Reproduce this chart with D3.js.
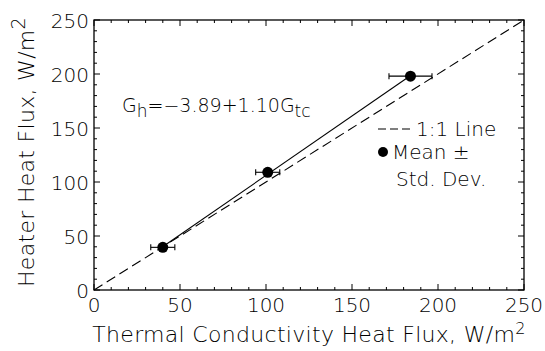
<!DOCTYPE html>
<html>
<head>
<meta charset="utf-8">
<script src="https://cdn.jsdelivr.net/npm/d3@7"></script>
<style>
  body { margin: 0; background: #fff; }
  text { font-family: "DejaVu Sans", sans-serif; font-weight: 200; fill: #000; }
</style>
</head>
<body>
<div id="chart"></div>
<script>
// Mean values
const conductivityFlux = [40, 101, 184];
const heaterFlux = [39.5, 109, 198];
const conductivitySD = [7, 7, 12.5];

const tickValues = [0, 50, 100, 150, 200, 250];
const minorTicks = d3.range(0, 251, 10);

// regression Gh = -3.89 + 1.10 Gtc
const fitIntercept = -3.89;
const fitSlope = 1.10;
const fitRange = [37, 186];

const margin = { top: 20, right: 21, bottom: 61, left: 94 },
  width = 545 - margin.left - margin.right,
  height = 351 - margin.top - margin.bottom;

const svg = d3
  .select("#chart")
  .append("svg")
  .attr("width", 545)
  .attr("height", 351);

const g = svg
  .append("g")
  .attr("transform", "translate(" + margin.left + "," + margin.top + ")");

const x = d3.scaleLinear().domain([0, 250]).range([0, width]);
const y = d3.scaleLinear().domain([0, 250]).range([height, 0]);

// frame
g.append("rect")
  .attr("width", width)
  .attr("height", height)
  .attr("fill", "none")
  .attr("stroke", "#000")
  .attr("stroke-width", 1.3);

// inward ticks on all four sides
function tickLen(v) {
  return v % 50 === 0 ? 6 : 3;
}
const tickG = g.append("g").attr("stroke", "#000").attr("stroke-width", 1);
minorTicks.forEach((v) => {
  tickG.append("line") // bottom
    .attr("x1", x(v)).attr("x2", x(v))
    .attr("y1", height).attr("y2", height - tickLen(v));
  tickG.append("line") // top
    .attr("x1", x(v)).attr("x2", x(v))
    .attr("y1", 0).attr("y2", tickLen(v));
  tickG.append("line") // left
    .attr("x1", 0).attr("x2", tickLen(v))
    .attr("y1", y(v)).attr("y2", y(v));
  tickG.append("line") // right
    .attr("x1", width).attr("x2", width - tickLen(v))
    .attr("y1", y(v)).attr("y2", y(v));
});

// tick labels
g.selectAll(".xlab")
  .data(tickValues)
  .enter()
  .append("text")
  .attr("x", (d) => x(d))
  .attr("y", height + 22)
  .attr("text-anchor", "middle")
  .style("font-size", "20px")
  .text((d) => d);

g.selectAll(".ylab")
  .data(tickValues)
  .enter()
  .append("text")
  .attr("x", -5)
  .attr("y", (d) => y(d) + 8)
  .attr("text-anchor", "end")
  .style("font-size", "20px")
  .text((d) => d);

// axis titles
const xTitle = g
  .append("text")
  .attr("x", width / 2)
  .attr("y", height + 52)
  .attr("text-anchor", "middle")
  .style("font-size", "22px")
  .style("letter-spacing", "0.3px");
xTitle.append("tspan").text("Thermal Conductivity Heat Flux, W/m");
xTitle.append("tspan").attr("dy", -8).style("font-size", "16px").text("2");

const yTitle = g
  .append("text")
  .attr("transform", "translate(" + (-60) + "," + (height / 2 - 3) + ") rotate(-90)")
  .attr("text-anchor", "middle")
  .style("font-size", "22px")
  .style("letter-spacing", "0.3px");
yTitle.append("tspan").text("Heater Heat Flux, W/m");
yTitle.append("tspan").attr("dy", -9).style("font-size", "19px").text("2");

// 1:1 line
g.append("line")
  .attr("x1", x(0)).attr("y1", y(0))
  .attr("x2", x(250)).attr("y2", y(250))
  .attr("stroke", "#000")
  .attr("stroke-width", 1.1)
  .attr("stroke-dasharray", "10,5");

// regression line
g.append("line")
  .attr("x1", x(fitRange[0])).attr("y1", y(fitIntercept + fitSlope * fitRange[0]))
  .attr("x2", x(fitRange[1])).attr("y2", y(fitIntercept + fitSlope * fitRange[1]))
  .attr("stroke", "#000")
  .attr("stroke-width", 1.1);

// error bars
const points = conductivityFlux.map((v, i) => ({ x: v, y: heaterFlux[i], sd: conductivitySD[i] }));
const eb = g.append("g").attr("stroke", "#000").attr("stroke-width", 1.1);
points.forEach((p) => {
  eb.append("line")
    .attr("x1", x(p.x - p.sd)).attr("x2", x(p.x + p.sd))
    .attr("y1", y(p.y)).attr("y2", y(p.y));
  [p.x - p.sd, p.x + p.sd].forEach((e) => {
    eb.append("line")
      .attr("x1", x(e)).attr("x2", x(e))
      .attr("y1", y(p.y) - 3).attr("y2", y(p.y) + 3);
  });
});

// means
g.selectAll("circle.mean")
  .data(points)
  .enter()
  .append("circle")
  .attr("class", "mean")
  .attr("cx", (d) => x(d.x))
  .attr("cy", (d) => y(d.y))
  .attr("r", 5.5)
  .attr("fill", "#000");

// fit equation
const eq = g
  .append("text")
  .attr("x", 28)
  .attr("y", 92)
  .style("font-size", "19px");
eq.append("tspan").text("G");
eq.append("tspan").attr("dy", 5).style("font-size", "17px").text("h");
eq.append("tspan").attr("dy", -5).text("=\u22123.89+1.10G");
eq.append("tspan").attr("dy", 5).style("font-size", "17px").text("tc");

// legend
const lg = g.append("g").attr("transform", "translate(284,0)");
lg.append("line")
  .attr("x1", 0).attr("x2", 34)
  .attr("y1", 109).attr("y2", 109)
  .attr("stroke", "#000")
  .attr("stroke-width", 1.1)
  .attr("stroke-dasharray", "8,4");
lg.append("text").attr("x", 38).attr("y", 116).style("font-size", "20px").text("1:1 Line");
lg.append("circle").attr("cx", 5).attr("cy", 132).attr("r", 5).attr("fill", "#000");
lg.append("text").attr("x", 14).attr("y", 139).style("font-size", "20px").text("Mean \u00b1");
lg.append("text").attr("x", 18).attr("y", 166).style("font-size", "20px").text("Std. Dev.");
</script>
</body>
</html>
